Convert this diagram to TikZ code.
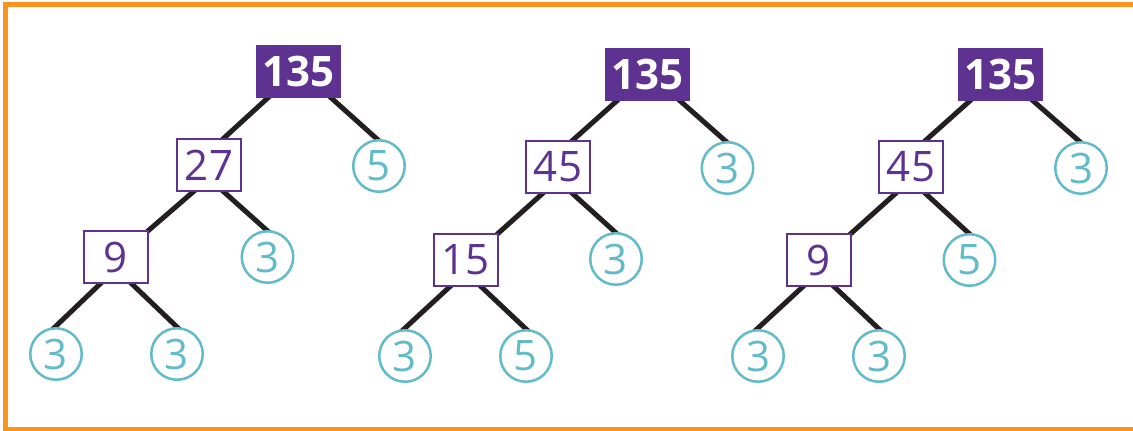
\documentclass[tikz,border=0pt]{standalone}
\usepackage{fontspec}
\setmainfont{Open Sans}
\pgfdeclarelayer{bg}
\pgfsetlayers{bg,main}
\definecolor{fpurple}{RGB}{93,50,145}
\definecolor{fteal}{RGB}{98,187,200}
\definecolor{forange}{RGB}{247,148,29}
\definecolor{fdark}{RGB}{35,31,32}
\tikzset{
  topbox/.style={fill=fpurple, text=white, font=\fontsize{42}{50}\selectfont\bfseries,
    minimum width=85pt, minimum height=53pt, inner sep=0pt},
  midbox/.style={draw=fpurple, line width=2pt, fill=white, text=fpurple,
    font=\fontsize{42}{50}\selectfont, minimum width=64pt, minimum height=52pt, inner sep=0pt},
  leaf/.style={circle, draw=fteal, line width=2.5pt, fill=white, text=fteal,
    font=\fontsize{42}{50}\selectfont, minimum size=51.5pt, inner sep=0pt},
  edge/.style={line width=5pt, draw=fdark, shorten <=-5pt, shorten >=-5pt},
  frame/.style={draw=forange, line width=5pt}
}
\begin{document}
\begin{tikzpicture}[x=1pt,y=-1pt]
\useasboundingbox (0,0) rectangle (1133,431);
\clip (0,0) rectangle (1133,431);
\draw[frame] (5.5,4) rectangle (1150,429);

% Tree 1
\node[topbox] (a1) at (298.5,71.5) {135};
\node[midbox] (b1) at (209,165) {27};
\node[leaf]   (c1) at (379,166) {5};
\node[midbox] (d1) at (116,257) {9};
\node[leaf]   (e1) at (267.5,257) {3};
\node[leaf]   (f1) at (56,354) {3};
\node[leaf]   (g1) at (177,354) {3};

% Tree 2
\node[topbox] (a2) at (647.5,74.5) {135};
\node[midbox] (b2) at (558,167) {45};
\node[leaf]   (c2) at (727.5,168) {3};
\node[midbox] (d2) at (465.5,260) {15};
\node[leaf]   (e2) at (616,259) {3};
\node[leaf]   (f2) at (405,356) {3};
\node[leaf]   (g2) at (526,356) {5};

% Tree 3
\node[topbox] (a3) at (1000.5,74.5) {135};
\node[midbox] (b3) at (911,167) {45};
\node[leaf]   (c3) at (1081,168) {3};
\node[midbox] (d3) at (818.5,260) {9};
\node[leaf]   (e3) at (969.5,260) {5};
\node[leaf]   (f3) at (758,356) {3};
\node[leaf]   (g3) at (879,356) {3};

\begin{pgfonlayer}{bg}
\foreach \t in {1,2,3}{
  \draw[edge] ([xshift=-31pt]a\t.south) -- ([xshift=15pt]b\t.north);
  \draw[edge] ([xshift=33pt]a\t.south) -- ([xshift=-2pt]c\t.north);
  \draw[edge] ([xshift=-16pt]b\t.south) -- (d\t.north east);
  \draw[edge] ([xshift=15pt]b\t.south) -- ([xshift=-1pt]e\t.north);
  \draw[edge] ([xshift=-16pt]d\t.south) -- ([xshift=-1pt]f\t.north);
  \draw[edge] ([xshift=16pt]d\t.south) -- (g\t.north);
}
\end{pgfonlayer}
\end{tikzpicture}
\end{document}
